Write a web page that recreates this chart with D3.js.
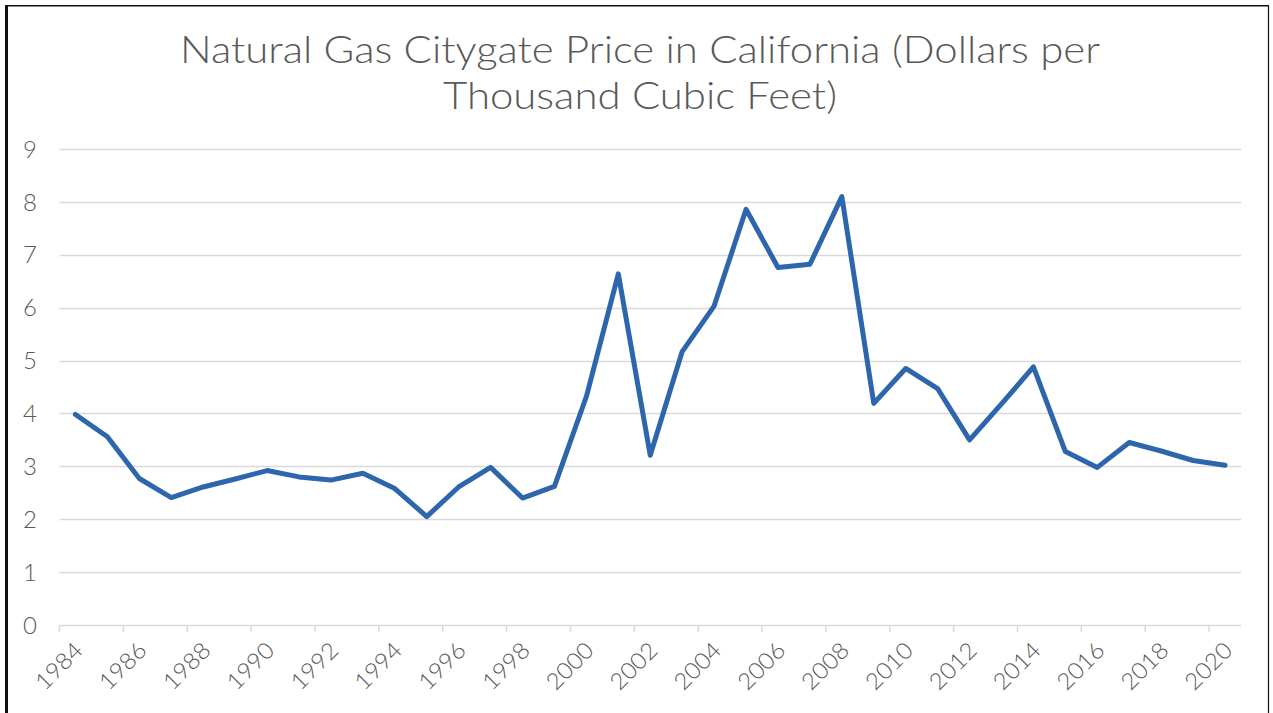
<!DOCTYPE html>
<html>
<head>
<meta charset="utf-8">
<script src="https://cdn.jsdelivr.net/npm/d3@7"></script>
<style>
html,body{margin:0;padding:0;background:#fff;}
svg{display:block;}
</style>
</head>
<body>
<svg id="chart" width="1273" height="713"></svg>
<script>
const titleLines = ["Natural Gas Citygate Price in California (Dollars per", "Thousand Cubic Feet)"];
const years = d3.range(1984, 2021).map(String);
const prices = [3.98, 3.56, 2.77, 2.41, 2.61, 2.76, 2.92, 2.80, 2.74, 2.87,
                2.58, 2.05, 2.61, 2.98, 2.40, 2.62, 4.32, 6.64, 3.21, 5.17,
                6.03, 7.86, 6.76, 6.82, 8.10, 4.19, 4.85, 4.47, 3.50, 4.18,
                4.88, 3.28, 2.98, 3.45, 3.29, 3.11, 3.02];
const yTicks = [0, 1, 2, 3, 4, 5, 6, 7, 8, 9];
const xLabelYears = years.filter((d, i) => i % 2 === 0);

const svg = d3.select("#chart");
const font = "'Lato', 'DejaVu Sans', sans-serif";
const textColor = "#595959";

// frame
svg.append("line").attr("x1", 6.5).attr("x2", 6.5).attr("y1", 5).attr("y2", 713).attr("stroke", "#111").attr("stroke-width", 3);
svg.append("line").attr("x1", 5).attr("x2", 1269).attr("y1", 5.8).attr("y2", 5.8).attr("stroke", "#111").attr("stroke-width", 1.6);
svg.append("line").attr("x1", 1268.5).attr("x2", 1268.5).attr("y1", 5).attr("y2", 713).attr("stroke", "#111").attr("stroke-width", 1.2);

const plotL = 59.5, plotR = 1241, plotT = 149, plotB = 625;
const x = d3.scaleBand().domain(years).range([plotL, plotR]).paddingInner(0).paddingOuter(0);
const y = d3.scaleLinear().domain([0, 9]).range([plotB, plotT]);

// title
const tl = [{t: titleLines[0], y: 63, w: 920}, {t: titleLines[1], y: 109, w: 394}];
svg.selectAll("text.title").data(tl).join("text")
  .attr("class", "title")
  .attr("x", 640).attr("y", d => d.y)
  .attr("text-anchor", "middle")
  .attr("font-family", font).attr("font-size", 38).attr("font-weight", 300)
  .attr("fill", textColor)
  .attr("textLength", d => d.w).attr("lengthAdjust", "spacingAndGlyphs")
  .text(d => d.t);

// gridlines
svg.append("g").selectAll("line").data(yTicks).join("line")
  .attr("x1", plotL).attr("x2", plotR)
  .attr("y1", d => Math.round(y(d)) + 0.5).attr("y2", d => Math.round(y(d)) + 0.5)
  .attr("stroke", "#d9d9d9").attr("stroke-width", 1.5);

// y labels
svg.append("g").selectAll("text").data(yTicks).join("text")
  .attr("x", 37).attr("y", d => y(d))
  .attr("dy", "0.36em")
  .attr("text-anchor", "end")
  .attr("font-family", font).attr("font-size", 24).attr("font-weight", 300)
  .attr("fill", textColor)
  .text(d => d);

// x ticks at category boundaries (every 2)
svg.append("g").selectAll("line").data(xLabelYears).join("line")
  .attr("x1", d => x(d)).attr("x2", d => x(d))
  .attr("y1", plotB).attr("y2", plotB + 7)
  .attr("stroke", "#d9d9d9").attr("stroke-width", 1.5);

// x labels
svg.append("g").selectAll("text").data(xLabelYears).join("text")
  .attr("transform", d => `translate(${x(d) + x.bandwidth() / 2 + 3},${plotB + 21}) rotate(-45)`)
  .attr("text-anchor", "end")
  .attr("dy", "0.36em")
  .attr("font-family", font).attr("font-size", 23).attr("font-weight", 300)
  .attr("fill", textColor)
  .attr("textLength", 56).attr("lengthAdjust", "spacingAndGlyphs")
  .text(d => d);

// line
const line = d3.line().x((d, i) => x(years[i]) + x.bandwidth() / 2).y(d => y(d));
svg.append("path").datum(prices)
  .attr("d", line)
  .attr("fill", "none")
  .attr("stroke", "#2E66AE")
  .attr("stroke-width", 5)
  .attr("stroke-linejoin", "round")
  .attr("stroke-linecap", "round");
</script>
</body>
</html>
